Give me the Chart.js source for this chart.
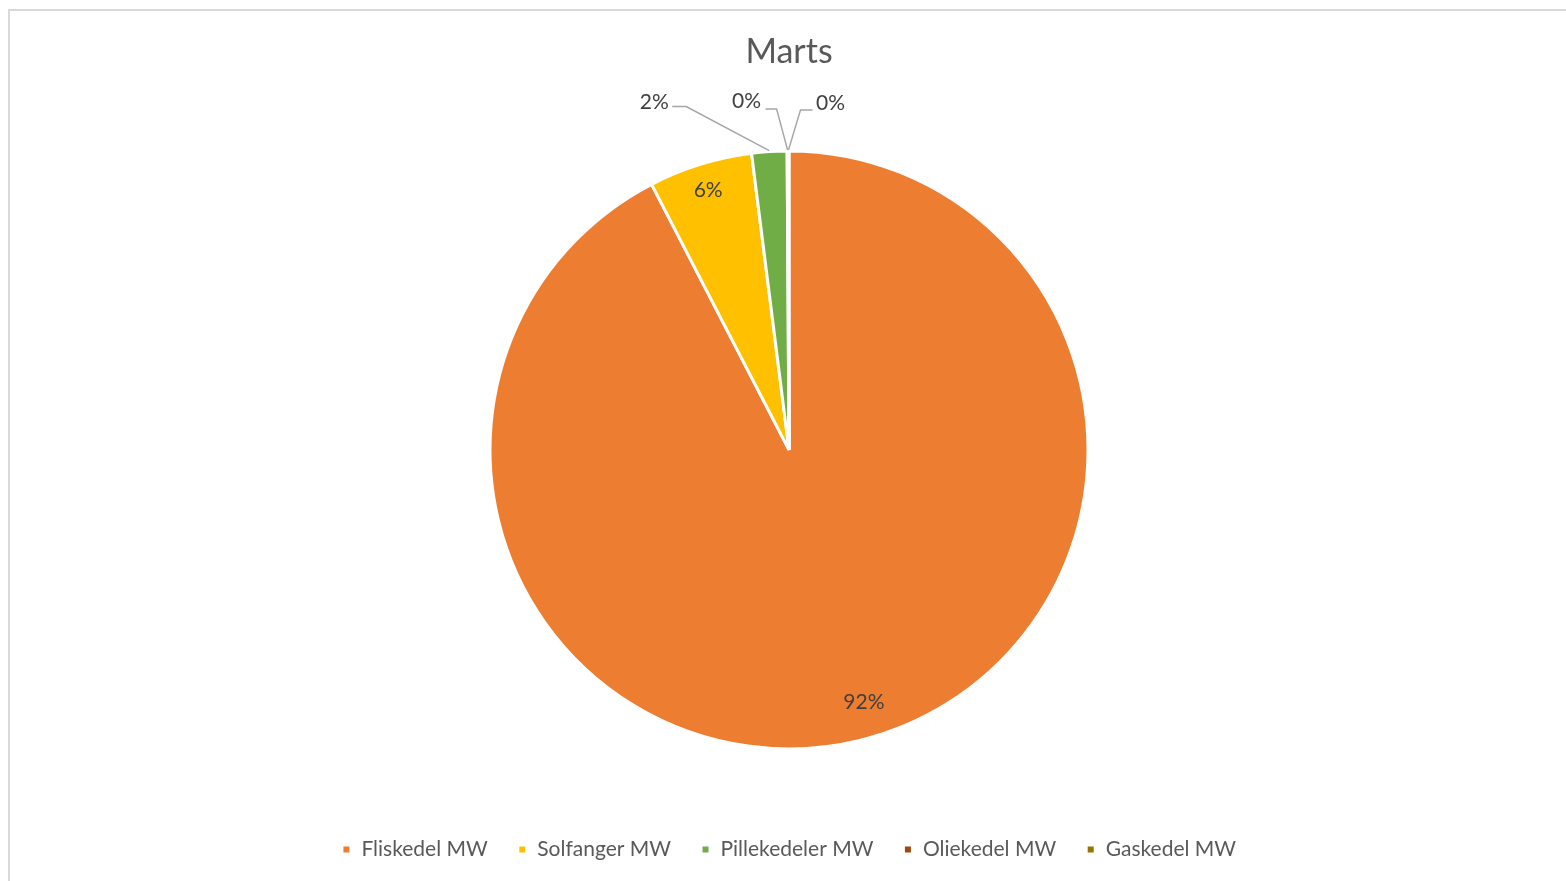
<!DOCTYPE html>
<html>
<head>
<meta charset="utf-8">
<script src="https://cdn.jsdelivr.net/npm/chart.js@4.4.1/dist/chart.umd.min.js"></script>
<style>
	html, body { margin: 0; padding: 0; overflow: hidden; background: #fff; }
	#frame { position: absolute; left: 8px; top: 9px; width: 1600px; height: 900px; border: 2px solid #d9d9d9; box-sizing: border-box; }
	#wrap { position: absolute; left: 9px; top: 9px; width: 1560px; height: 861px; }
</style>
</head>
<body>
<div id="frame"></div>
<div id="wrap"><canvas id="chart"></canvas></div>
<script>
//chart data
var title = "Marts";
var categories = ["Fliskedel MW", "Solfanger MW", "Pillekedeler MW", "Oliekedel MW", "Gaskedel MW"];
var values = [92.4, 5.6, 1.9, 0.05, 0.05];
var colors = ["#ED7D31", "#FFC000", "#70AD47", "#9E480E", "#997300"];

//label placement: inside (fraction of radius) or outside with leader line (offsets from slice edge)
var labelStyle = [
	{ inside: 0.88, turn: -0.05 },
	{ inside: 0.91, turn: 0 },
	{ elbow: [-83, -44], end: [-97, -44], text: [-115, -48] },
	{ elbow: [-11, -41], end: [-22, -41], text: [-41, -49] },
	{ elbow: [12, -40], end: [24, -40], text: [42, -47] }
];

//draws the percentage labels and leader lines
var pieLabels = {
	id: "pieLabels",
	afterDatasetsDraw: function( chart ){
		var ctx = chart.ctx;
		var meta = chart.getDatasetMeta(0);
		var total = values.reduce(function(a, b){ return a + b; }, 0);
		ctx.save();
		ctx.font = "21px Lato";
		ctx.textAlign = "center";
		ctx.textBaseline = "middle";
		for( var i = 0; i < meta.data.length; i++ ){
			var arc = meta.data[i].getProps(["x", "y", "startAngle", "endAngle", "outerRadius"], true);
			var mid = (arc.startAngle + arc.endAngle) / 2;
			var txt = Math.round( values[i] / total * 100 ) + "%";
			var s = labelStyle[i];
			if( s.inside ){
				var r = arc.outerRadius * s.inside;
				var a = mid + s.turn;
				ctx.fillStyle = "#404040";
				ctx.fillText( txt, arc.x + Math.cos(a) * r, arc.y + Math.sin(a) * r );
			} else {
				var ex = arc.x + Math.cos(mid) * (arc.outerRadius + 1);
				var ey = arc.y + Math.sin(mid) * (arc.outerRadius + 1);
				ctx.strokeStyle = "#a6a6a6";
				ctx.lineWidth = 1.5;
				ctx.beginPath();
				ctx.moveTo( ex, ey );
				ctx.lineTo( ex + s.elbow[0], ey + s.elbow[1] );
				ctx.lineTo( ex + s.end[0], ey + s.end[1] );
				ctx.stroke();
				ctx.fillStyle = "#404040";
				ctx.fillText( txt, ex + s.text[0], ey + s.text[1] );
			}
		}
		ctx.restore();
	}
};

var pie = new Chart( document.getElementById("chart"), {
	type: "pie",
	data: {
		labels: categories,
		datasets: [{
			data: values,
			backgroundColor: colors,
			borderColor: "#ffffff",
			borderWidth: 3,
			radius: 299
		}]
	},
	options: {
		responsive: true,
		maintainAspectRatio: false,
		animation: false,
		layout: { padding: 0 },
		plugins: {
			title: {
				display: true,
				text: title,
				color: "#595959",
				font: { family: "Lato", size: 34, weight: "normal" },
				padding: { top: 23, bottom: 18 }
			},
			legend: {
				position: "bottom",
				labels: {
					color: "#595959",
					font: { family: "Lato", size: 21 },
					boxWidth: 9,
					boxHeight: 9,
					padding: 30
				}
			},
			tooltip: { enabled: false }
		}
	},
	plugins: [pieLabels]
});
</script>
</body>
</html>
